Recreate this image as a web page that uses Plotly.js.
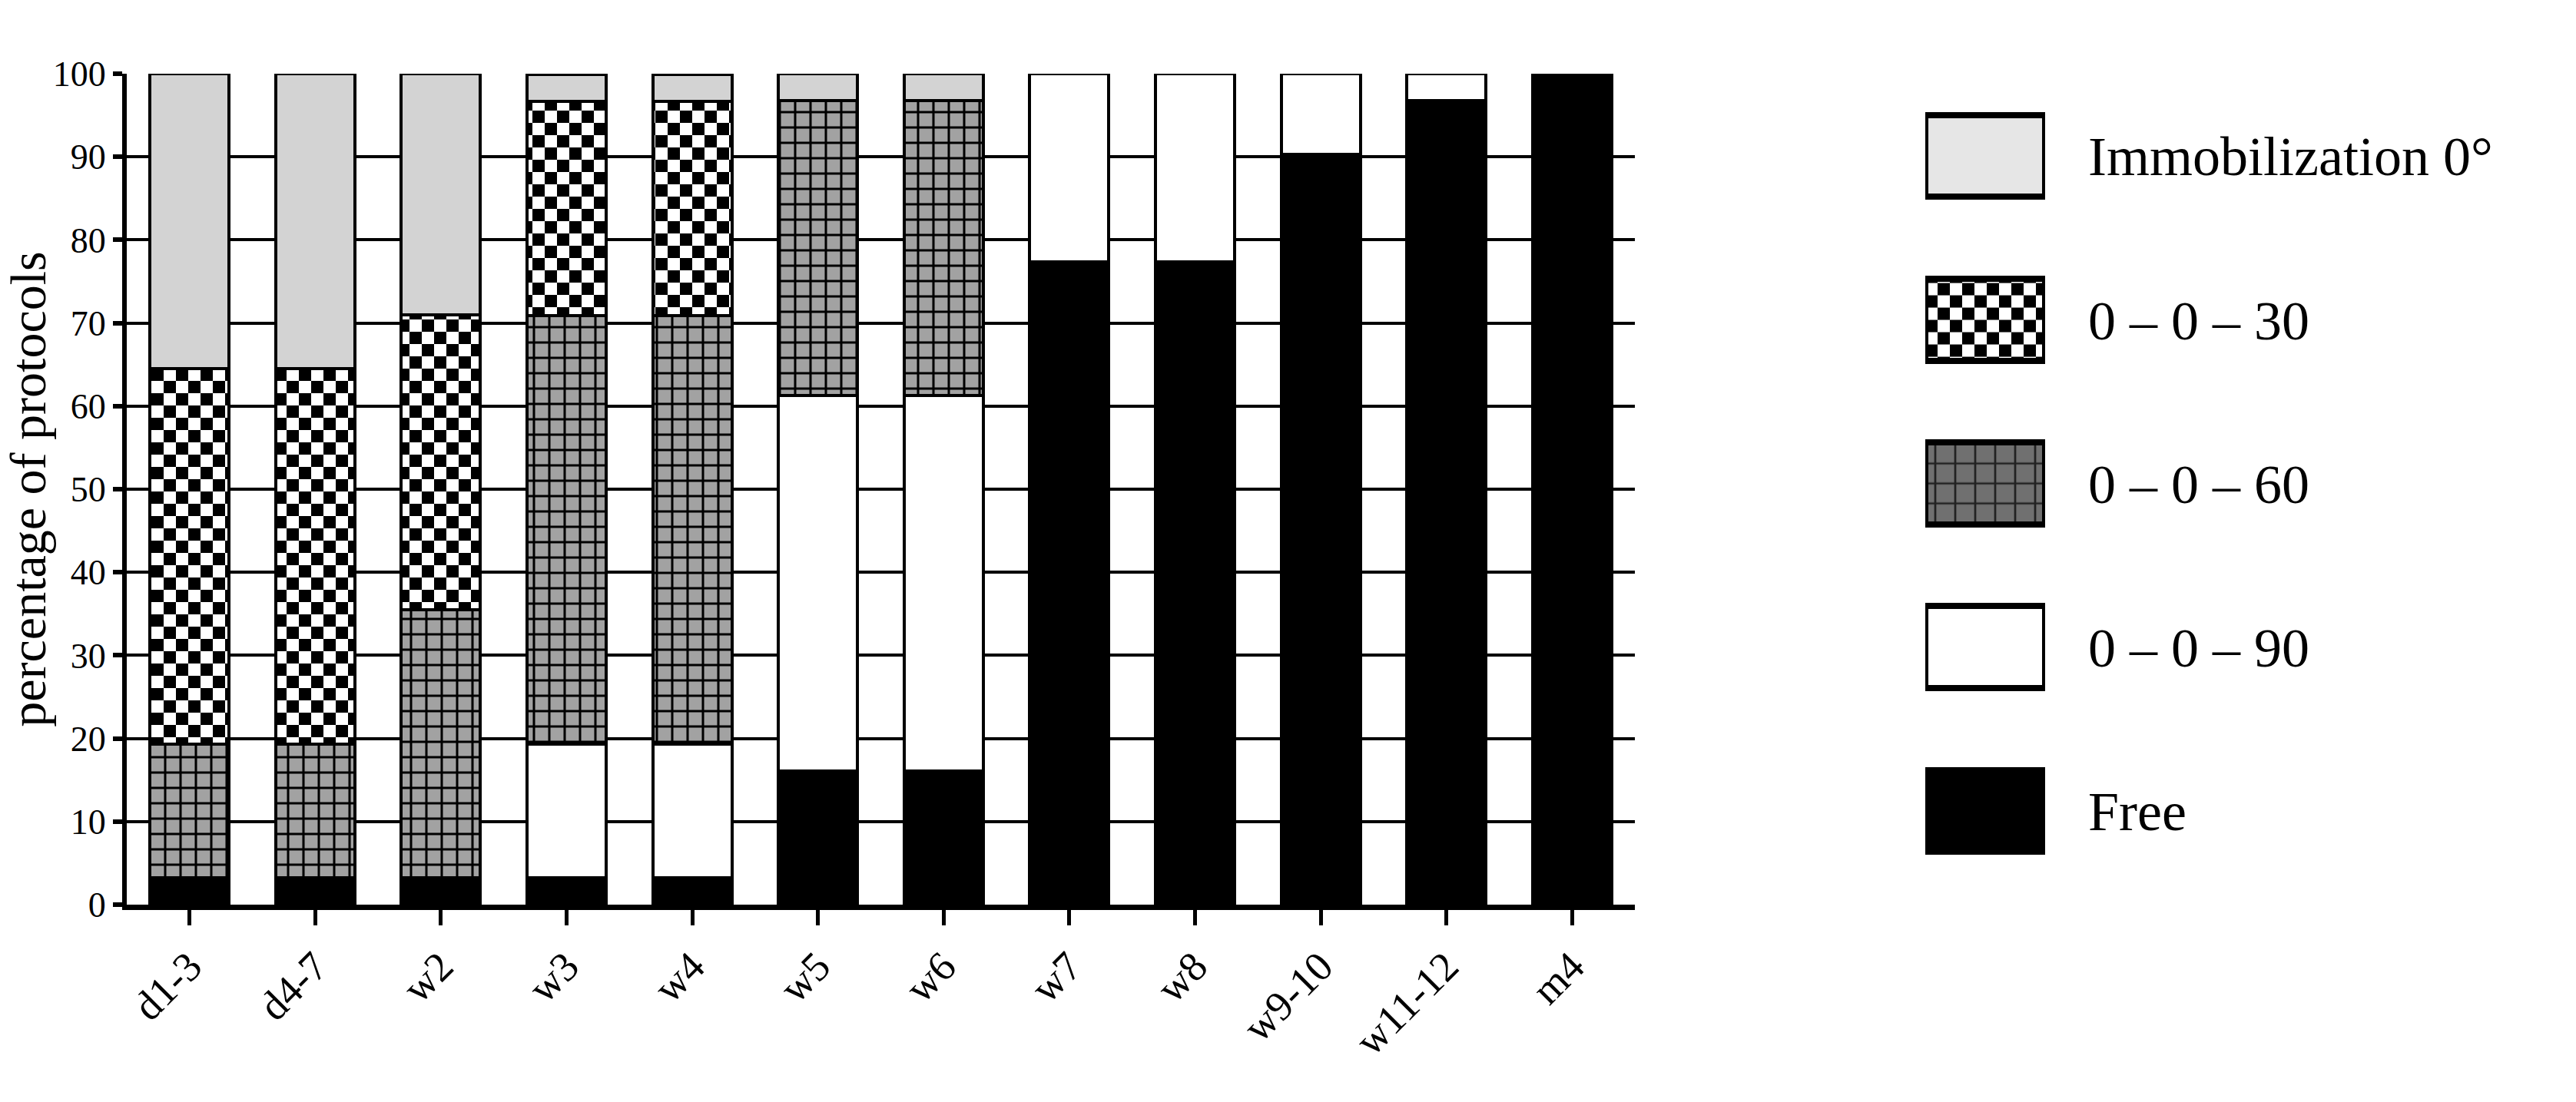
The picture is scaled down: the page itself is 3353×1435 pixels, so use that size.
<!DOCTYPE html>
<html>
<head>
<meta charset="utf-8">
<script src="https://cdn.plot.ly/plotly-3.0.1.min.js"></script>
<style>html,body{margin:0;padding:0;background:#fff;}#chart{width:3353px;height:1435px;}</style>
</head>
<body>
<div id="chart"></div>
<script>
// ---- data (percentage of protocols) ----
const categories = ['d1-3','d4-7','w2','w3','w4','w5','w6','w7','w8','w9-10','w11-12','m4'];
const seriesNames = ['Immobilization 0°','0 – 0 – 30','0 – 0 – 60','0 – 0 – 90','Free'];
const free   = [3.2, 3.2, 3.2, 3.2, 3.2, 16.1, 16.1, 77.4, 77.4, 90.3, 96.8, 100];
const flex90 = [0, 0, 0, 16.1, 16.1, 45.2, 45.2, 22.6, 22.6, 9.7, 3.2, 0];
const flex60 = [16.1, 16.1, 32.3, 51.6, 51.6, 35.5, 35.5, 0, 0, 0, 0, 0];
const flex30 = [45.2, 45.2, 35.5, 25.8, 25.8, 0, 0, 0, 0, 0, 0, 0];
const immob  = [35.5, 35.5, 29.0, 3.2, 3.2, 3.2, 3.2, 0, 0, 0, 0, 0];
const yTicks = [0,10,20,30,40,50,60,70,80,90,100];

const FONT = 'Liberation Serif, Times New Roman, serif';
const edge = {color:'#000', width:4};

// series styles (bars) and legend-swatch styles
const styles = {
  'Immobilization 0°': {bar:{color:'#d3d3d3', line:edge}, sw:{color:'#e6e6e6'}},
  '0 – 0 – 30': {bar:{color:'#ffffff', line:edge, pattern:{shape:'x', fgcolor:'#000', bgcolor:'#fff', size:16, solidity:0.5}}, sw:{color:'#ffffff', pattern:{shape:'x', fgcolor:'#000', bgcolor:'#fff', size:16, solidity:0.5}}, checker:true},
  '0 – 0 – 60': {bar:{color:'#9e9e9e', line:edge, pattern:{shape:'+', fgcolor:'#000', bgcolor:'#a2a2a2', size:20, solidity:0.28}}, sw:{color:'#707070', pattern:{shape:'+', fgcolor:'#222', bgcolor:'#707070', size:26, solidity:0.2}}},
  '0 – 0 – 90': {bar:{color:'#ffffff', line:edge}, sw:{color:'#ffffff'}},
  'Free': {bar:{color:'#000000', line:edge}, sw:{color:'#000000'}}
};
const seriesValues = {'Free':free,'0 – 0 – 90':flex90,'0 – 0 – 60':flex60,'0 – 0 – 30':flex30,'Immobilization 0°':immob};
const stackOrder = ['Free','0 – 0 – 90','0 – 0 – 60','0 – 0 – 30','Immobilization 0°'];

const traces = [];
stackOrder.forEach(name => {
  traces.push({
    type:'bar', name:name, x:categories, y:seriesValues[name],
    marker:styles[name].bar, showlegend:false, hoverinfo:'skip',
    meta: styles[name].checker ? 'checker' : ''
  });
});
// legend swatches drawn as bars on a second, hidden axis pair
seriesNames.forEach(name => {
  const sw = Object.assign({}, styles[name].sw, {line:{color:'#000', width:8}});
  traces.push({
    type:'bar', orientation:'h', name:name+' (key)', x:[1], y:[name], width:0.5,
    xaxis:'x2', yaxis:'y2', marker:sw, showlegend:false, hoverinfo:'skip',
    meta: styles[name].checker ? 'checker' : ''
  });
});

const L = 165, PW = 3353 - L;
const layout = {
  width:3353, height:1435,
  margin:{l:L, r:0, t:96, b:257},
  paper_bgcolor:'#fff', plot_bgcolor:'#fff',
  barmode:'stack', bargap:0.37,
  showlegend:false,
  font:{family:FONT, color:'#000'},
  xaxis:{
    domain:[0, (2128 - L) / PW], type:'category', range:[-0.5, 11.5],
    showline:true, linecolor:'#000', linewidth:7,
    ticks:'outside', ticklen:20, tickwidth:5, tickcolor:'#000',
    tickangle:-45, tickfont:{family:FONT, size:54, color:'#000'},
    showgrid:false, zeroline:false, fixedrange:true
  },
  yaxis:{
    range:[0,100], tickvals:yTicks, ticktext:yTicks.map(String),
    showline:true, linecolor:'#000', linewidth:6,
    ticks:'outside', ticklen:12, tickwidth:6, tickcolor:'#000',
    tickfont:{family:FONT, size:46, color:'#000'},
    showgrid:true, gridcolor:'#000', gridwidth:4, zeroline:false,
    title:{text:'percentage of protocols', font:{family:FONT, size:66, color:'#000'}, standoff:6},
    fixedrange:true
  },
  xaxis2:{
    domain:[(2506 - L) / PW, (2662 - L) / PW], range:[0,1], anchor:'y2',
    visible:false, showgrid:false, zeroline:false, fixedrange:true
  },
  yaxis2:{
    domain:[0.0143, 0.9995], anchor:'x2', type:'category',
    categoryorder:'array', categoryarray:seriesNames, range:[4.5,-0.5],
    side:'right', showline:false, ticks:'', showgrid:false, zeroline:false,
    ticklabelstandoff:55,
    tickfont:{family:FONT, size:72, color:'#000'}, fixedrange:true
  }
};

const gd = document.getElementById('chart');
Plotly.newPlot(gd, traces, layout, {staticPlot:true}).then(() => {
  const NS = 'http://www.w3.org/2000/svg';
  const svg = gd.querySelector('svg.main-svg');
  let defs = svg.querySelector('defs');
  if (!defs) { defs = document.createElementNS(NS,'defs'); svg.insertBefore(defs, svg.firstChild); }
  const pat = document.createElementNS(NS,'pattern');
  pat.setAttribute('id','checkerFill');
  pat.setAttribute('patternUnits','userSpaceOnUse');
  pat.setAttribute('width','32'); pat.setAttribute('height','32');
  const mk = (x,y,c,w) => { const r = document.createElementNS(NS,'rect');
    r.setAttribute('x',x); r.setAttribute('y',y); r.setAttribute('width',w); r.setAttribute('height',w);
    r.setAttribute('fill',c); pat.appendChild(r); };
  mk(0,0,'#fff',32); mk(0,0,'#000',16); mk(16,16,'#000',16);
  defs.appendChild(pat);
  gd.querySelectorAll('g.trace.bars').forEach(g => {
    const cd = g.__data__;
    if (cd && cd[0] && cd[0].trace && cd[0].trace.meta === 'checker') {
      g.querySelectorAll('path').forEach(p => { p.style.fill = 'url(#checkerFill)'; });
    }
  });
});
</script>
</body>
</html>
